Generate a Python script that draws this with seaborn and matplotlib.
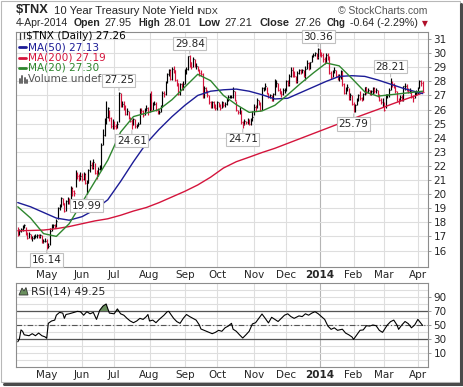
import numpy as np
import pandas as pd
import matplotlib
matplotlib.use("Agg")
import matplotlib.pyplot as plt
import seaborn as sns
from matplotlib.patches import Rectangle, Polygon
from matplotlib.lines import Line2D

sns.set_theme(style="white")
plt.rcParams["font.family"] = ["DejaVu Sans"]

# ---------------- data ----------------
holidays = ["2013-05-27", "2013-07-04", "2013-09-02", "2013-11-28",
            "2013-12-25", "2014-01-01", "2014-01-20", "2014-02-17"]

close = [
    17.1, 17.4, 17.5, 17.7, 17.8, 17.2, 16.9, 17.2, 16.9, 16.9, 17.0, 17.0, 17.1, 17.0, 17.1, 16.6, 16.7, 16.7,
    16.3, 16.3, 17.4, 17.8, 17.8, 17.7, 18.1, 19.0, 19.2, 19.7, 19.4, 18.8, 19.5, 19.7, 19.4, 20.4, 20.2, 20.1, 21.5, 21.3, 21.2, 21.3,
    21.1, 21.4, 20.8, 20.8, 21.7, 22.1, 21.9, 22.3, 21.5, 21.3, 21.8, 21.9, 23.5, 24.2, 25.3, 25.5, 26.1, 25.4, 24.8, 24.9,
    24.8, 24.7, 25.0, 27.2, 26.4, 26.4, 26.2, 25.7, 25.9, 25.4, 25.2, 24.9, 25.3, 24.8, 24.8, 25.0, 26.0, 25.9, 25.6, 26.0, 26.1, 25.8,
    27.1, 26.0, 26.4, 26.4, 26.0, 25.8, 25.8, 26.2, 27.2, 27.1, 28.0, 28.5, 28.8, 28.2, 28.9, 28.8, 28.1, 27.9, 27.1, 27.8, 27.5, 27.8,
    28.6, 28.9, 29.8, 29.4, 29.0, 29.6, 29.1, 29.1, 28.8, 28.6, 28.5, 26.9, 27.5, 27.3, 27.0, 26.5, 26.2, 26.5, 26.2, 26.1,
    26.5, 26.3, 26.1, 26.5, 26.3, 26.4, 26.7, 26.9, 26.9, 26.9, 27.3, 26.7, 26.0, 25.8, 26.1, 25.1, 25.0, 25.2, 25.1, 25.3, 25.0, 25.3, 25.5,
    26.2, 26.1, 26.7, 26.4, 26.0, 27.5, 27.5, 27.7, 27.2, 26.9, 27.0, 26.7, 27.1, 27.9, 27.9, 27.4, 27.3, 27.1, 27.4, 27.4,
    28.0, 27.8, 28.4, 28.8, 28.6, 28.4, 28.0, 28.6, 28.8, 28.7, 28.8, 28.4, 28.9, 29.3, 28.9, 29.4, 29.8, 29.9, 30.0, 29.7, 30.3,
    30.0, 29.9, 29.6, 29.4, 29.9, 29.7, 28.6, 28.3, 28.7, 28.8, 28.4, 28.2, 28.3, 28.7, 27.8, 27.2, 27.5, 27.6, 26.8, 27.0, 26.4,
    25.8, 26.3, 26.7, 27.0, 26.8, 26.7, 27.1, 27.6, 27.3, 27.4, 27.1, 27.3, 27.5, 27.3, 27.4, 27.0, 26.7, 26.5, 26.5,
    26.0, 27.0, 27.0, 27.4, 27.9, 27.8, 27.7, 27.3, 26.6, 26.5, 26.9, 26.7, 27.7, 27.7, 27.4, 27.3, 27.4, 26.9, 26.8, 27.2, 27.2,
    27.5, 28.0, 27.9, 27.26,
]
high = [
    17.7, 17.5, 17.6, 17.8, 17.9, 17.7, 17.3, 17.3, 17.2, 17.0, 17.1, 17.2, 17.2, 17.2, 17.2, 17.1, 16.8, 16.9,
    16.8, 16.5, 17.6, 17.9, 17.9, 17.9, 18.2, 19.1, 19.3, 19.8, 19.7, 19.4, 19.6, 19.8, 19.7, 20.6, 20.5, 20.3, 21.7, 21.6, 21.4, 21.6,
    21.5, 21.6, 21.5, 21.0, 21.8, 22.4, 22.3, 22.5, 22.2, 21.7, 21.9, 22.1, 23.6, 24.6, 25.4, 26.6, 26.2, 26.0, 25.5, 25.3,
    25.2, 25.0, 25.2, 27.25, 27.2, 26.6, 26.6, 26.3, 26.1, 25.9, 25.5, 25.3, 25.4, 25.3, 25.0, 25.1, 26.1, 26.1, 26.0, 26.1, 26.3, 26.2,
    27.2, 27.3, 26.5, 26.6, 26.5, 26.1, 26.0, 26.3, 27.3, 27.3, 28.0, 28.6, 28.9, 28.9, 29.0, 29.1, 28.8, 28.2, 27.9, 27.9, 27.9, 28.0,
    28.9, 29.0, 29.8, 29.84, 29.4, 29.7, 29.6, 29.3, 29.1, 28.9, 28.8, 28.6, 27.7, 27.6, 27.4, 27.0, 26.6, 26.6, 26.6, 26.4,
    26.6, 26.5, 26.4, 26.6, 26.5, 26.5, 26.8, 27.0, 27.0, 27.0, 27.6, 27.3, 26.6, 26.0, 26.2, 26.0, 25.2, 25.3, 25.2, 25.4, 25.3, 25.4, 25.9,
    26.4, 26.3, 26.8, 26.7, 26.5, 27.6, 27.6, 27.9, 27.6, 27.2, 27.1, 27.0, 27.2, 28.2, 28.1, 27.9, 27.5, 27.3, 27.5, 27.5,
    28.1, 28.1, 28.5, 29.0, 29.0, 28.7, 28.4, 28.7, 28.9, 28.9, 28.9, 28.8, 29.1, 29.5, 29.4, 29.4, 29.9, 30.0, 30.1, 30.0, 30.36,
    30.3, 30.1, 30.0, 29.7, 30.0, 30.0, 29.8, 28.7, 28.8, 29.0, 28.8, 28.5, 28.5, 28.8, 28.7, 27.9, 27.6, 27.8, 27.5, 27.2, 27.0,
    26.5, 26.4, 26.8, 27.1, 27.3, 26.9, 27.2, 27.6, 27.6, 27.5, 27.4, 27.4, 27.6, 27.6, 27.5, 27.4, 27.1, 26.8, 26.8,
    26.5, 27.1, 27.1, 27.5, 28.21, 28.0, 27.9, 27.7, 27.3, 26.8, 27.0, 27.0, 27.7, 27.9, 27.8, 27.5, 27.5, 27.4, 27.0, 27.3, 27.4,
    27.6, 28.1, 28.1, 28.01,
]
low = [
    17.0, 17.1, 17.3, 17.4, 17.6, 17.1, 16.8, 16.9, 16.8, 16.7, 16.8, 16.9, 16.9, 16.9, 16.9, 16.5, 16.5, 16.6,
    16.14, 16.2, 16.4, 17.4, 17.6, 17.6, 17.7, 18.2, 18.9, 19.1, 19.2, 18.7, 18.8, 19.3, 19.3, 19.3, 19.9, 19.9, 20.5, 21.1, 20.9, 21.0,
    20.9, 21.0, 20.7, 19.99, 20.8, 21.6, 21.8, 21.8, 21.4, 21.1, 21.3, 21.7, 21.7, 23.5, 24.1, 25.0, 25.4, 25.2, 24.7, 24.6,
    24.6, 24.6, 24.7, 25.1, 26.2, 26.2, 26.0, 25.6, 25.6, 25.3, 25.1, 24.61, 24.9, 24.7, 24.7, 24.8, 25.0, 25.7, 25.5, 25.6, 25.9, 25.6,
    25.8, 26.0, 26.0, 26.3, 25.9, 25.7, 25.7, 25.8, 26.2, 26.9, 27.0, 27.9, 28.4, 28.1, 28.1, 28.6, 28.0, 27.7, 27.0, 27.0, 27.4, 27.4,
    27.8, 28.5, 28.8, 29.0, 28.9, 29.0, 29.0, 28.9, 28.7, 28.4, 28.4, 26.8, 26.8, 27.2, 26.9, 26.4, 26.1, 26.1, 26.1, 26.0,
    26.0, 26.2, 26.0, 26.1, 26.2, 26.2, 26.3, 26.6, 26.8, 26.8, 26.8, 26.6, 25.9, 25.7, 25.7, 25.0, 24.71, 24.9, 25.0, 25.0, 24.9, 24.9, 25.2,
    25.6, 25.9, 26.1, 26.3, 25.9, 26.0, 27.3, 27.4, 27.1, 26.8, 26.8, 26.6, 26.6, 27.0, 27.6, 27.3, 27.1, 26.9, 27.0, 27.2,
    27.3, 27.7, 27.7, 28.3, 28.3, 28.3, 27.9, 27.9, 28.5, 28.5, 28.6, 28.3, 28.1, 28.9, 28.8, 28.9, 29.4, 29.7, 29.8, 29.6, 29.6,
    29.8, 29.7, 29.4, 29.2, 29.3, 29.5, 28.5, 28.2, 28.3, 28.6, 28.3, 28.1, 28.0, 28.2, 27.7, 27.1, 27.1, 27.3, 26.7, 26.7, 26.3,
    25.79, 25.8, 26.3, 26.6, 26.7, 26.6, 26.7, 27.0, 27.1, 27.2, 27.0, 27.0, 27.1, 27.2, 27.2, 26.9, 26.6, 26.4, 26.2,
    25.9, 26.1, 26.8, 26.9, 27.4, 27.6, 27.5, 27.2, 26.6, 26.4, 26.6, 26.6, 26.6, 27.4, 27.3, 27.2, 27.2, 26.8, 26.5, 26.8, 27.0,
    27.1, 27.5, 27.7, 27.21,
]

# moving averages read every 8 bars (last point = last bar)
ma_bar = list(range(0, 249, 8)) + [252]
ma20 = [19.1, 18.3, 17.2, 17.0, 17.9, 19.4, 20.9, 22.4, 24.4, 25.5, 25.75, 26.0, 26.7, 27.6, 28.5, 28.05,
        27.0, 26.35, 25.8, 25.9, 26.3, 27.05, 27.85, 28.6, 29.3, 29.1, 28.2, 27.25, 26.95, 27.05, 27.15, 27.25, 27.30]
ma50 = [19.4, 19.1, 18.7, 18.3, 18.15, 18.4, 18.9, 19.6, 20.9, 22.3, 23.6, 24.6, 25.5, 26.3, 27.0, 27.3,
        27.4, 27.45, 27.3, 27.05, 26.75, 26.8, 27.2, 27.6, 28.0, 28.35, 28.4, 28.35, 28.1, 27.8, 27.5, 27.25, 27.13]
ma200 = [17.4, 17.42, 17.45, 17.55, 17.7, 17.9, 18.1, 18.25, 18.5, 18.8, 19.05, 19.4, 19.8, 20.2, 20.65, 21.2,
         21.85, 22.3, 22.62, 22.95, 23.25, 23.6, 23.95, 24.3, 24.65, 25.0, 25.33, 25.67, 26.0, 26.35, 26.68, 27.0, 27.19]

rsi_bar = [0, 1, 2, 3, 4, 7, 9, 11, 13, 15, 17, 18, 19, 21, 23, 24, 26, 28, 29, 30, 32, 35, 37, 39, 41, 43,
           45, 47, 49, 51, 53, 55, 57, 60, 62, 64, 66, 68, 70, 72, 74, 76, 78, 80, 81, 82, 84, 86, 88, 91,
           93, 94, 95, 97, 99, 101, 103, 105, 107, 109, 111, 113, 114, 116, 119, 121, 123, 125, 127, 129, 131,
           133, 134, 136, 138, 140, 142, 144, 146, 148, 150, 152, 154, 156, 158, 160, 162, 164, 166, 168,
           170, 172, 175, 177, 179, 181, 183, 185, 187, 189, 191, 193, 195, 197, 199, 202, 204, 206, 208,
           209, 211, 213, 215, 217, 219, 221, 223, 225, 227, 230, 232, 234, 236, 237, 239, 241, 243, 245,
           247, 249, 252]
rsi_val = [26, 30, 43, 41, 36, 34.7, 37.6, 34.7, 38.5, 34.7, 33, 31, 52.4, 55.7, 57, 64, 68, 67, 59.5, 65,
           66, 68, 69.5, 69, 64, 69, 66, 68, 58, 71, 77, 80, 67, 66, 73, 66, 64, 59.5, 55.7, 53.3, 55.7,
           59.5, 58, 62, 65, 55.7, 57, 53.3, 58, 64, 69, 69.5, 66, 59.5, 54.8, 52.4, 59.5, 65, 62, 59.5,
           57, 50, 44.3, 42.4, 39.5, 37.6, 39.5, 42.4, 41, 46, 48.5, 52.4, 44, 41, 36, 31.4, 36, 41, 51.5,
           53.3, 59.5, 65.7, 59.5, 53, 61, 58, 55, 59.5, 64, 66, 62, 59.5, 63, 62, 66, 64, 67, 69, 66, 62,
           58, 48.5, 43.8, 46, 42.4, 44, 38.5, 36, 32.9, 29.5, 36, 42.4, 43, 49, 48.5, 50, 49, 42.4, 39.5,
           50, 54.8, 57, 50, 43.8, 50, 55, 52, 46, 50, 58, 49.25]

labels = [("2013-05-01", 16.14, -1), ("2013-06-06", 19.99, -1), ("2013-07-05", 27.25, 1),
          ("2013-07-17", 24.61, -1), ("2013-09-06", 29.84, 1), ("2013-10-23", 24.71, -1),
          ("2013-12-31", 30.36, 1), ("2014-02-03", 25.79, -1), ("2014-03-07", 28.21, 1)]

price_ticks = list(range(16, 32))
rsi_ticks = [10, 30, 50, 70, 90]

# ---------------- layout ----------------
W, H = 464, 387
RED = "#d4143c"
NAVY = "#1c1c96"
GREEN = "#2e862e"
GRID = "#dedede"
HEAD = ["Liberation Sans", "DejaVu Sans"]

fig = plt.figure(figsize=(W / 100, H / 100), dpi=100)
fig.patch.set_facecolor("white")
renderer = fig.canvas.get_renderer()

def T(x, y, s, **kw):
    kw.setdefault("va", "center")
    return fig.text(x / W, 1 - y / H, s, **kw)

def fit(x0, x1, y, s, fs, **kw):
    t = T(x0, y, s, fontsize=fs, **kw)
    w = t.get_window_extent(renderer).width
    if w > 0:
        t.set_fontsize(fs * (x1 - x0) / w)
    return t

ax = fig.add_axes([16 / W, 1 - 267 / H, 412 / W, 235 / H])
ax2 = fig.add_axes([16 / W, 1 - 367 / H, 412 / W, 84 / H])

N = len(close)
dates = pd.bdate_range(end="2014-04-04", periods=N, freq="C", holidays=holidays)
xi = np.arange(N)
c = np.array(close); hi = np.array(high); lo = np.array(low)
up = np.r_[False, np.diff(c) >= 0]
cols = np.where(up, "black", RED)

month_pos = [i for i in range(1, N) if dates[i].month != dates[i - 1].month]
month_lab = ["2014" if dates[i].month == 1 else dates[i].strftime("%b") for i in month_pos]

xlim = (-1.1, 255.3)
for a in (ax, ax2):
    a.set_xlim(*xlim)
    a.set_facecolor("white")
    for s in a.spines.values():
        s.set_color("#8c8c8c")
        s.set_linewidth(0.8)
    a.yaxis.tick_right()
    a.set_xticks(month_pos)
    a.set_xticklabels(month_lab)
    a.tick_params(axis="both", labelsize=7.5, length=2.0, width=0.6, color="#8c8c8c", pad=2)
    a.tick_params(axis="x", pad=0.3)
    for t in a.get_xticklabels():
        if t.get_text() == "2014":
            t.set_fontweight("bold")
    for p in month_pos:
        a.axvline(p, color="#b4b4b4" if dates[p].month == 1 else GRID, lw=0.8, zorder=0)

# price panel
ax.set_ylim(14.83, 31.50)
ax.set_yticks(price_ticks)
for v in price_ticks:
    ax.axhline(v, color=GRID, lw=0.8, zorder=0)
ax.vlines(xi, lo, hi, colors=cols, lw=0.85, zorder=2)
ax.hlines(c, xi, xi + 0.55, colors=cols, lw=0.85, zorder=2)

sns.lineplot(x=ma_bar, y=ma200, ax=ax, color=RED, lw=1.0, estimator=None, zorder=3)
sns.lineplot(x=ma_bar, y=ma50, ax=ax, color=NAVY, lw=1.0, estimator=None, zorder=3)
sns.lineplot(x=ma_bar, y=ma20, ax=ax, color=GREEN, lw=1.0, estimator=None, zorder=3)
ax.set_xlabel(""); ax.set_ylabel("")

for d, v, side in labels:
    i = dates.get_loc(pd.Timestamp(d))
    ax.annotate(f"{v:.2f}", xy=(i, v), xytext=(0, 8.3 * side), textcoords="offset points",
                ha="center", va="center", fontsize=7.5, zorder=5,
                bbox=dict(boxstyle="square,pad=0.15", fc="white", ec="#c0c0c0", lw=0.8),
                arrowprops=dict(arrowstyle="-", color="#c0c0c0", lw=0.8, shrinkA=0, shrinkB=1))

# RSI panel
ax2.set_ylim(-10, 110)
ax2.set_yticks(rsi_ticks)
for v in range(0, 101, 10):
    ax2.axhline(v, color=GRID, lw=0.8, zorder=0)
ax2.axhline(70, color="#555555", lw=0.9, zorder=1)
ax2.axhline(30, color="#555555", lw=0.9, zorder=1)
ax2.axhline(50, color="#555555", lw=0.8, ls=(0, (5, 2, 1, 2)), zorder=1)
rb = np.array(rsi_bar, float); rv = np.array(rsi_val, float)
ax2.fill_between(rb, 70, rv, where=rv > 70, interpolate=True, color="#6a8f5e", lw=0, zorder=2)
sns.lineplot(x=rb, y=rv, ax=ax2, color="black", lw=0.8, estimator=None, zorder=3)
ax2.set_xlabel(""); ax2.set_ylabel("")

# ---------------- header texts ----------------
fit(16, 49, 10, "$TNX", 10.5, fontweight="bold", family=HEAD)
fit(54, 193, 10.5, "10 Year Treasury Note Yield", 8.3, family=HEAD)
fit(196, 218, 11, "INDX", 6.8, family=HEAD)
fit(338, 428, 10.5, "\u00a9 StockCharts.com", 8, color="#555555", family=HEAD)
pieces = [(16, 68, "4-Apr-2014", False), (74, 101, "Open", True), (105, 132, "27.95", False),
          (138, 160, "High", True), (163, 191, "28.01", False), (198, 220, "Low", True),
          (224, 252, "27.21", False), (259, 289, "Close", True), (294, 321, "27.26", False),
          (327, 346, "Chg", True), (350, 418, "-0.64 (-2.29%)", False)]
for x0, x1, s, b in pieces:
    fit(x0, x1, 23.5, s, 8, fontweight="bold" if b else "normal", family=HEAD)
T(424.5, 23.5, "\u25bc", fontsize=5.5, color="#b0102a", ha="center")

# legend inside price panel
leg = [(36, "$TNX (Daily) 27.26", "black", None), (47, "MA(50) 27.13", NAVY, NAVY),
       (57.5, "MA(200) 27.19", RED, RED), (68, "MA(20) 27.30", GREEN, GREEN),
       (79, "Volume undef", "#555555", None)]
for y, s, col, mk in leg:
    x0 = 26.5 if s.startswith("$") else 28.5
    T(x0, y, s, fontsize=7.6, color=col)
    if mk:
        fig.add_artist(Line2D([19.5 / W, 26 / W], [1 - y / H] * 2, color=mk, lw=2, transform=fig.transFigure))
for (x0, y0, y1) in [(20.5, 33, 39), (24, 32, 38)]:
    fig.add_artist(Line2D([x0 / W] * 2, [1 - y0 / H, 1 - y1 / H], color="#333333", lw=0.9, transform=fig.transFigure))
for (x0, h) in [(20, 4), (22.5, 7), (25, 5), (27, 3)]:
    fig.add_artist(Line2D([x0 / W] * 2, [1 - 82.5 / H, 1 - (82.5 - h) / H], color="#666666", lw=1.4, transform=fig.transFigure))

# RSI legend
fig.add_artist(Polygon([[19 / W, 1 - 295 / H], [22 / W, 1 - 288 / H], [24 / W, 1 - 291 / H],
                        [26 / W, 1 - 287.5 / H], [28 / W, 1 - 295 / H]],
                       closed=True, fc="#6a8f5e", ec="#333333", lw=0.6, transform=fig.transFigure))
T(31.5, 291.5, "RSI(14) 49.25", fontsize=7.8)

# outer frame with shadow
fig.add_artist(Rectangle((1 / W, 1 - 382 / H), 459 / W, 381 / H, fill=False, ec="#b8b8b8", lw=0.8,
                         transform=fig.transFigure))
fig.add_artist(Line2D([461 / W] * 2, [1 - 4 / H, 1 - 384 / H], color="#4a4a4a", lw=2.2, transform=fig.transFigure))
fig.add_artist(Line2D([4 / W, 462 / W], [1 - 384 / H] * 2, color="#4a4a4a", lw=2.2, transform=fig.transFigure))

fig.savefig("out.png", dpi=100, facecolor="white")
